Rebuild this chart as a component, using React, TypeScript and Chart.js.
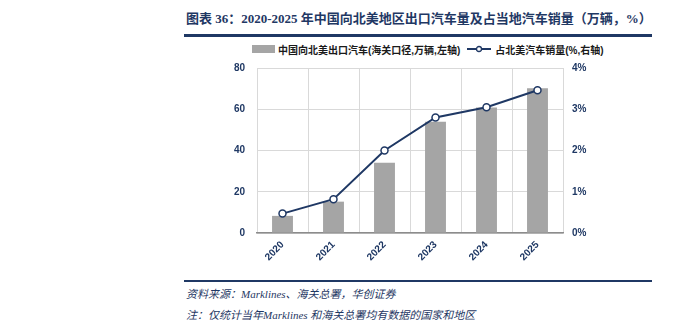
import React, { useEffect, useRef } from "react";
import { Chart, registerables } from "chart.js";

Chart.register(...registerables);

const years = ["2020", "2021", "2022", "2023", "2024", "2025"];
const exportVolume = [8.3, 15.2, 34.1, 53.9, 60.8, 70.2];
const marketShare = [0.47, 0.82, 2.0, 2.8, 3.05, 3.46];
const leftTicks = [0, 20, 40, 60, 80];
const rightTicks = [0, 1, 2, 3, 4];

const titleText = "图表 36：2020-2025 年中国向北美地区出口汽车量及占当地汽车销量（万辆，%）";
const barLabel = "中国向北美出口汽车(海关口径,万辆,左轴)";
const lineLabel = "占北美汽车销量(%,右轴)";
const sourceText = "资料来源：Marklines、海关总署，华创证券";
const noteText = "注：仅统计当年Marklines 和海关总署均有数据的国家和地区";

const NAVY = "#1F3864";
const BAR = "#A5A5A5";
const GRID = "#D9D9D9";

export default function App() {
  const ref = useRef<HTMLCanvasElement | null>(null);

  useEffect(() => {
    if (!ref.current) return;
    const tickFont = { family: "'Liberation Sans', Arial, sans-serif", size: 10, weight: "bold" as const };
    const chart = new Chart(ref.current, {
      type: "bar",
      data: {
        labels: years,
        datasets: [
          {
            type: "line",
            label: lineLabel,
            data: marketShare,
            yAxisID: "y1",
            borderColor: NAVY,
            borderWidth: 2,
            pointRadius: 3.5,
            pointBackgroundColor: "#FFFFFF",
            pointBorderColor: NAVY,
            pointBorderWidth: 1.5,
            order: 1,
          } as any,
          {
            type: "bar",
            label: barLabel,
            data: exportVolume,
            yAxisID: "y",
            backgroundColor: BAR,
            barPercentage: 0.82,
            categoryPercentage: 0.5,
            order: 2,
          },
        ],
      },
      options: {
        responsive: false,
        animation: false,
        devicePixelRatio: 1,
        layout: { padding: { top: 9, left: 0, right: 0, bottom: 0 } },
        plugins: { legend: { display: false }, tooltip: { enabled: false } },
        scales: {
          x: {
            grid: { color: GRID, drawTicks: false, offset: true },
            border: { color: "#8C8C8C", width: 1.5 },
            ticks: { minRotation: 45, maxRotation: 45, font: tickFont, color: NAVY, padding: 6 },
            afterFit: (s: any) => { s.height = 47; },
          },
          y: {
            position: "left",
            min: 0,
            max: 80,
            afterBuildTicks: (s: any) => { s.ticks = leftTicks.map((v) => ({ value: v })); },
            grid: { color: GRID, drawTicks: false },
            border: { display: false },
            ticks: { font: tickFont, color: NAVY, padding: 12 },
            afterFit: (s: any) => { s.width = 57; },
          },
          y1: {
            position: "right",
            min: 0,
            max: 4,
            afterBuildTicks: (s: any) => { s.ticks = rightTicks.map((v) => ({ value: v })); },
            grid: { drawOnChartArea: false, drawTicks: false },
            border: { display: false },
            ticks: { font: tickFont, color: NAVY, padding: 9, callback: (v: any) => v + "%" },
            afterFit: (s: any) => { s.width = 47; },
          },
        },
      } as any,
    });
    return () => chart.destroy();
  }, []);

  const cjkSans = "'Liberation Sans', 'Noto Sans CJK SC', sans-serif";
  const serif = "'Liberation Serif', 'Noto Sans CJK SC', serif";

  return (
    <div style={{ position: "fixed", left: 0, top: 0, width: 673, height: 325, background: "#fff", overflow: "hidden" }}>
      <div style={{ position: "absolute", left: 186, top: 8, font: `bold 13px ${serif}`, color: NAVY, whiteSpace: "nowrap" }}>
        {titleText}
      </div>
      <div style={{ position: "absolute", left: 184, top: 34, width: 468, height: 3, background: NAVY }} />
      <div style={{ position: "absolute", left: 252, top: 42, height: 14, display: "flex", alignItems: "center", font: `bold 10px ${cjkSans}`, color: "#1a1a1a", whiteSpace: "nowrap" }}>
        <span style={{ display: "inline-block", width: 23, height: 8, background: BAR, marginRight: 3 }} />
        <span>{barLabel}</span>
        <svg width="24" height="10" style={{ marginLeft: 7, marginRight: 4 }}>
          <line x1="0" y1="5" x2="24" y2="5" stroke={NAVY} strokeWidth="2" />
          <circle cx="12" cy="5" r="2.5" fill="#fff" stroke={NAVY} strokeWidth="1.3" />
        </svg>
        <span>{lineLabel}</span>
      </div>
      <canvas ref={ref} width={410} height={230} style={{ position: "absolute", left: 200, top: 50, width: 410, height: 230 }} />
      <div style={{ position: "absolute", left: 184, top: 280, width: 468, height: 2, background: NAVY }} />
      <div style={{ position: "absolute", left: 186, top: 285, font: `italic 11px ${serif}`, color: NAVY, whiteSpace: "nowrap" }}>
        {sourceText}
      </div>
      <div style={{ position: "absolute", left: 186, top: 306, font: `italic 11px ${serif}`, color: NAVY, whiteSpace: "nowrap" }}>
        {noteText}
      </div>
    </div>
  );
}
